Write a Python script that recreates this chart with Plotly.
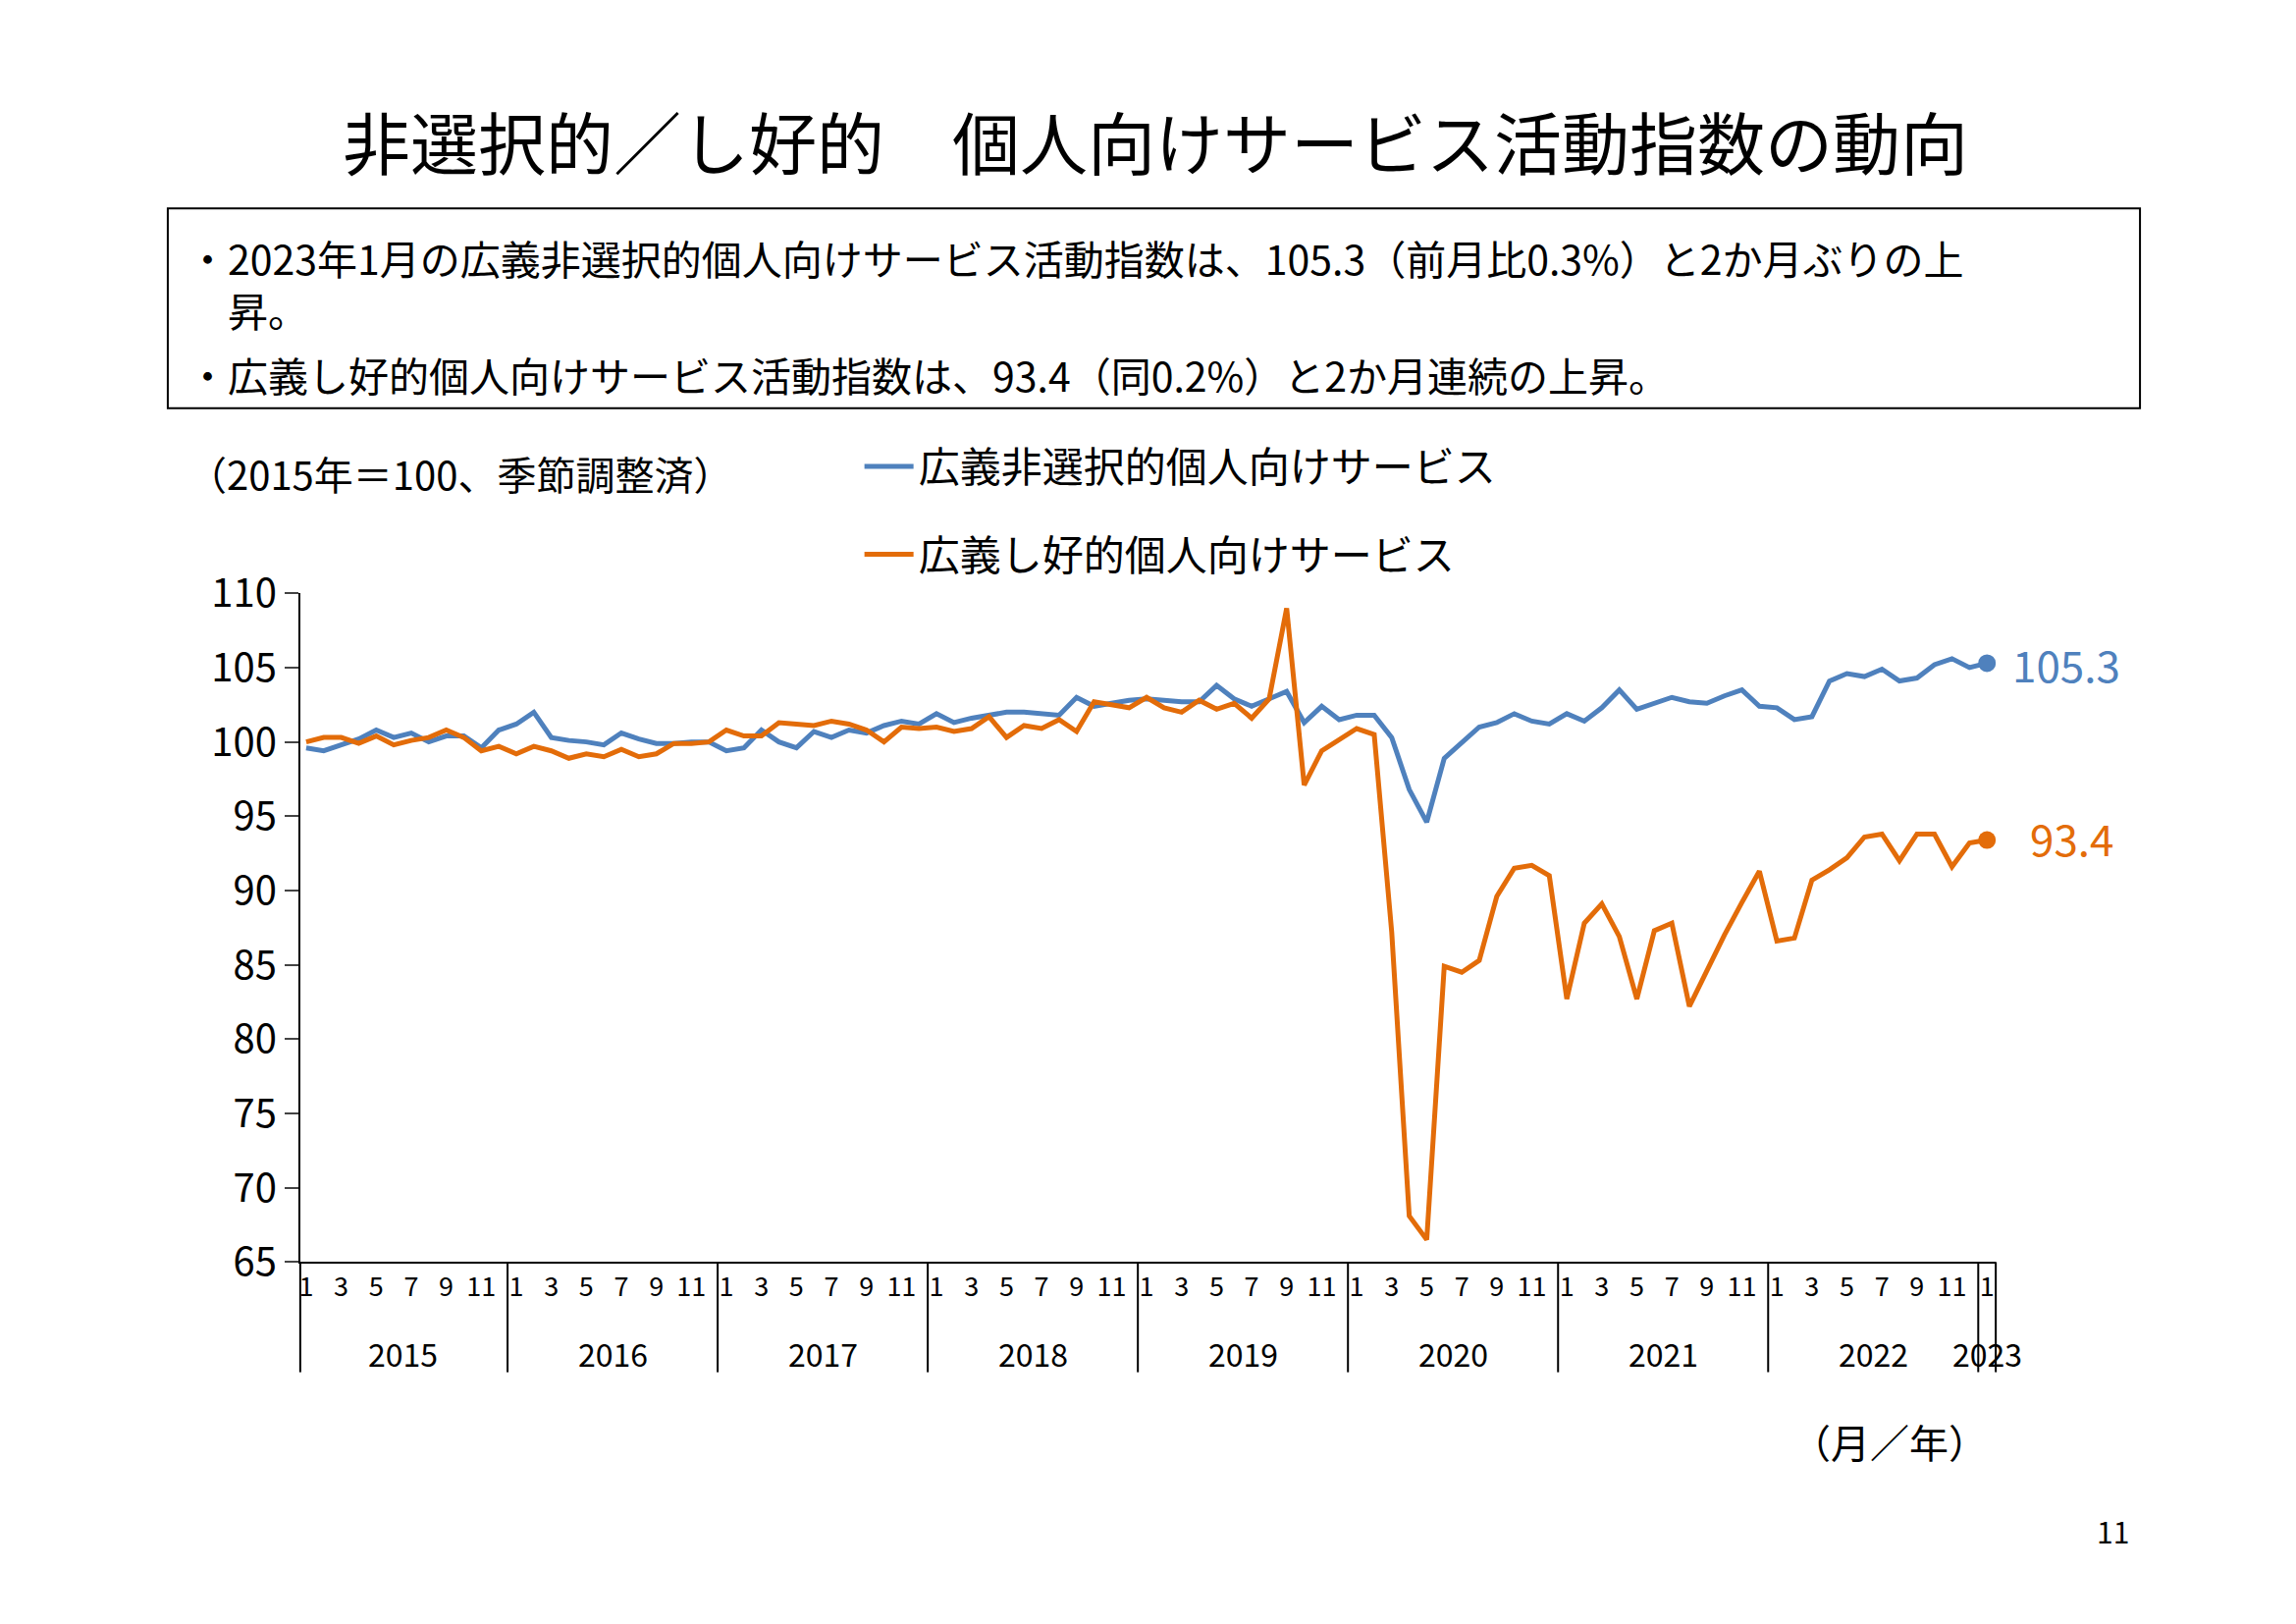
import plotly.graph_objects as go

W, H = 2339, 1654
FONT = "Noto Sans CJK JP"

years = ["2015", "2016", "2017", "2018", "2019", "2020", "2021", "2022", "2023"]

# 2015年1月〜2023年1月
nonselective = [
    99.6, 99.4, 99.8, 100.2, 100.8, 100.3, 100.6, 100.0, 100.4, 100.4, 99.6, 100.8,
    101.2, 102.0, 100.3, 100.1, 100.0, 99.8, 100.6, 100.2, 99.9, 99.9, 100.0, 100.0,
    99.4, 99.6, 100.8, 100.0, 99.6, 100.7, 100.3, 100.8, 100.6, 101.1, 101.4, 101.2,
    101.9, 101.3, 101.6, 101.8, 102.0, 102.0, 101.9, 101.8, 103.0, 102.4, 102.6, 102.8,
    102.9, 102.8, 102.7, 102.7, 103.8, 102.9, 102.4, 102.9, 103.4, 101.3, 102.4, 101.5,
    101.8, 101.8, 100.3, 96.8, 94.6, 98.9, 99.9, 101.0, 101.3, 101.9, 101.4, 101.2,
    101.9, 101.4, 102.3, 103.5, 102.2, 102.6, 103.0, 102.7, 102.6, 103.1, 103.5, 102.4,
    102.3, 101.5, 101.7, 104.1, 104.6, 104.4, 104.9, 104.1, 104.3, 105.2, 105.6, 105.0,
    105.3,
]
preference = [
    100.0, 100.3, 100.3, 99.9, 100.4, 99.8, 100.1, 100.3, 100.8, 100.3, 99.4, 99.7,
    99.2, 99.7, 99.4, 98.9, 99.2, 99.0, 99.5, 99.0, 99.2, 99.9, 99.9, 100.0,
    100.8, 100.4, 100.4, 101.3, 101.2, 101.1, 101.4, 101.2, 100.8, 100.0, 101.0, 100.9,
    101.0, 100.7, 100.9, 101.7, 100.3, 101.1, 100.9, 101.5, 100.7, 102.7, 102.5, 102.3,
    103.0, 102.3, 102.0, 102.8, 102.2, 102.6, 101.6, 102.9, 109.0, 97.1, 99.4, 100.2,
    100.9, 100.5, 87.2, 68.1, 66.5, 84.9, 84.5, 85.3, 89.6, 91.5, 91.7, 91.0,
    82.7, 87.8, 89.1, 86.9, 82.7, 87.3, 87.8, 82.2, 84.6, 87.0, 89.2, 91.3,
    86.6, 86.8, 90.7, 91.4, 92.2, 93.6, 93.8, 92.0, 93.8, 93.8, 91.6, 93.2,
    93.4,
]

BLUE = "#4F81BD"
ORANGE = "#E36C09"

x = list(range(len(nonselective)))


# positions are given in the reference's scaled-down pixels and corrected
# for the offset seen in the first render
def px(d):
    return (d - 6) * 1.5 / W


def py(d):
    return 1 - ((d - 28) / 0.967) * 1.5 / H


fig = go.Figure()
fig.add_trace(go.Scatter(x=x, y=nonselective, mode="lines", name="広義非選択的個人向けサービス",
                         legendgroup="a", line=dict(color=BLUE, width=5)))
fig.add_trace(go.Scatter(x=x, y=preference, mode="lines", name="広義し好的個人向けサービス",
                         legendgroup="b", line=dict(color=ORANGE, width=5)))
fig.add_trace(go.Scatter(x=[x[-1]], y=[nonselective[-1]], mode="markers", showlegend=False,
                         marker=dict(color=BLUE, size=18)))
fig.add_trace(go.Scatter(x=[x[-1]], y=[preference[-1]], mode="markers", showlegend=False,
                         marker=dict(color=ORANGE, size=18)))

# month tick labels (odd months) + Jan 2023
tickvals, ticktext = [], []
for i in range(len(x)):
    m = i % 12 + 1
    if m % 2 == 1 and (i < 96 or m == 1):
        tickvals.append(i)
        ticktext.append(str(m))

fig.update_layout(
    width=W, height=H, margin=dict(l=0, r=0, t=0, b=0),
    plot_bgcolor="white", paper_bgcolor="white",
    font=dict(family=FONT, color="black"),
    xaxis=dict(domain=[px(204), px(1356)], range=[-0.34, 96.5], tickvals=tickvals, ticktext=ticktext,
               showline=True, linecolor="black", linewidth=2, ticks="", showgrid=False,
               zeroline=False, tickfont=dict(size=27), tickangle=0),
    yaxis=dict(domain=[py(860), py(405)], range=[65, 110], dtick=5, showline=True,
               linecolor="black", linewidth=2, ticks="outside", ticklen=14, tickwidth=2,
               showgrid=False, zeroline=False, tickfont=dict(size=40)),
    legend=dict(x=px(584), y=py(296), xanchor="left", yanchor="top", font=dict(size=42),
                tracegroupgap=32, itemwidth=50, bgcolor="rgba(0,0,0,0)"),
)

# year separators and labels
for k in range(9):
    xb = 12 * k - 0.5
    if k > 0:
        fig.add_shape(type="line", xref="x", yref="paper", x0=xb, x1=xb, y0=py(860), y1=py(935),
                      line=dict(color="black", width=2))
    xm = 12 * k + 5.5 if k < 8 else 96
    fig.add_annotation(x=xm, y=py(922), xref="x", yref="paper", text=years[k], showarrow=False,
                       yanchor="middle", font=dict(size=32))
fig.add_shape(type="line", xref="paper", yref="paper", x0=px(204), x1=px(204), y0=py(860),
              y1=py(935), line=dict(color="black", width=2))
fig.add_shape(type="line", xref="paper", yref="paper", x0=px(1356), x1=px(1356), y0=py(860),
              y1=py(935), line=dict(color="black", width=2))

# title, box and notes
fig.add_annotation(x=px(785), y=py(97), xref="paper", yref="paper", showarrow=False,
                   xanchor="center", yanchor="middle",
                   text="非選択的／し好的　個人向けサービス活動指数の動向", font=dict(size=69))
fig.add_shape(type="rect", xref="paper", yref="paper", x0=px(114), x1=px(1454), y0=py(143),
              y1=py(279), line=dict(color="black", width=2))
fig.add_annotation(x=px(126), y=py(155), xref="paper", yref="paper", showarrow=False,
                   xanchor="left", yanchor="top", align="left",
                   text="・2023年1月の広義非選択的個人向けサービス活動指数は、105.3（前月比0.3%）と2か月ぶりの上<br>　昇。",
                   font=dict(size=41))
fig.add_annotation(x=px(126), y=py(256), xref="paper", yref="paper", showarrow=False,
                   xanchor="left", yanchor="middle", align="left",
                   text="・広義し好的個人向けサービス活動指数は、93.4（同0.2%）と2か月連続の上昇。",
                   font=dict(size=41))
fig.add_annotation(x=px(126), y=py(323), xref="paper", yref="paper", showarrow=False,
                   xanchor="left", yanchor="middle", text="（2015年＝100、季節調整済）",
                   font=dict(size=40))
fig.add_annotation(x=px(1366), y=py(453), xref="paper", yref="paper", showarrow=False,
                   xanchor="left", yanchor="middle", text="105.3", font=dict(size=44, color=BLUE))
fig.add_annotation(x=px(1378), y=py(571), xref="paper", yref="paper", showarrow=False,
                   xanchor="left", yanchor="middle", text="93.4", font=dict(size=44, color=ORANGE))
fig.add_annotation(x=px(1352), y=py(982), xref="paper", yref="paper", showarrow=False,
                   xanchor="right", yanchor="middle", text="（月／年）", font=dict(size=40))
fig.add_annotation(x=px(1448), y=py(1043), xref="paper", yref="paper", showarrow=False,
                   xanchor="right", yanchor="middle", text="11", font=dict(size=30))

fig.write_html("out.html")
